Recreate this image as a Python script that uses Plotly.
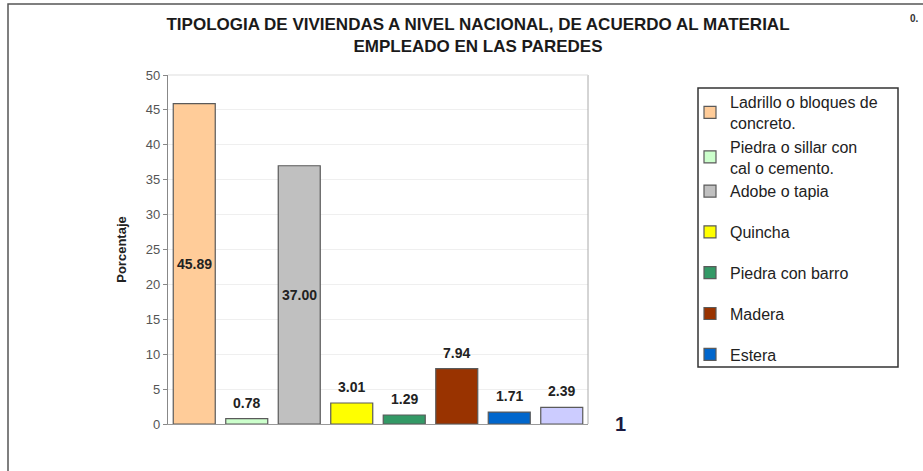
import plotly.graph_objects as go

categories = ["Ladrillo o bloques de<br>concreto.", "Piedra o sillar con<br>cal o cemento.", "Adobe o tapia",
              "Quincha", "Piedra con barro", "Madera", "Estera", "Otro"]
values = [45.89, 0.78, 37.00, 3.01, 1.29, 7.94, 1.71, 2.39]
labels = ["45.89", "0.78", "37.00", "3.01", "1.29", "7.94", "1.71", "2.39"]
colors = ["#FFCC99", "#CCFFCC", "#C0C0C0", "#FFFF00", "#339966", "#993300", "#0066CC", "#CCCCFF"]
inside = [True, False, True, False, False, False, False, False]
groups = ["a", "a", "a", "b", "c", "d", "e", "f"]
show_legend = [True, True, True, True, True, True, True, False]
y_ticks = [0, 5, 10, 15, 20, 25, 30, 35, 40, 45, 50]

W, H = 923, 471
L, R, T, B = 168, 588, 75, 424

fig = go.Figure()
for i, (c, v, col) in enumerate(zip(categories, values, colors)):
    fig.add_trace(go.Bar(
        x=[i], y=[v], name=c, width=0.8,
        marker=dict(color=col, line=dict(color="#5a5a5a", width=1.2)),
        legendgroup=groups[i], showlegend=show_legend[i],
        hoverinfo="skip",
    ))

lab_font = dict(size=14, color="#222222", family="Liberation Sans")
annotations = []
for i, (v, lab) in enumerate(zip(values, labels)):
    if inside[i]:
        annotations.append(dict(x=i, y=v / 2, text=f"<b>{lab}</b>", showarrow=False,
                                xref="x", yref="y", yanchor="middle", font=lab_font))
    else:
        annotations.append(dict(x=i, y=v, text=f"<b>{lab}</b>", showarrow=False,
                                xref="x", yref="y", yanchor="bottom", yshift=6, font=lab_font))

def px(xp):
    return (xp - L) / (R - L)

def py(yp):
    return (B - yp) / (B - T)

annotations.append(dict(x=px(620), y=py(424), xref="paper", yref="paper", text="<b>1</b>",
                        showarrow=False, xanchor="center", yanchor="middle",
                        font=dict(size=20, color="#1a1a40", family="Liberation Sans")))
annotations.append(dict(x=px(921), y=py(18), xref="paper", yref="paper", text="<b>0.</b>",
                        showarrow=False, xanchor="right", yanchor="middle",
                        font=dict(size=10, color="#333333", family="Liberation Sans")))

fig.update_layout(
    width=W, height=H,
    margin=dict(l=L, r=W - R, t=T, b=H - B, autoexpand=False),
    paper_bgcolor="white", plot_bgcolor="white",
    barmode="overlay",
    title=dict(text="<b>TIPOLOGIA DE VIVIENDAS A NIVEL NACIONAL, DE ACUERDO AL MATERIAL<br>EMPLEADO EN LAS PAREDES</b>",
               x=px(478), xref="paper", xanchor="center", y=1 - 30 / H, yanchor="middle",
               font=dict(size=17, color="#1a1a1a", family="Liberation Sans")),
    xaxis=dict(range=[-0.5, 7.5], showticklabels=False, ticks="", showgrid=False, zeroline=False,
               showline=True, linecolor="#999999", linewidth=1, mirror=False, fixedrange=True),
    yaxis=dict(range=[0, 50], tickvals=y_ticks, ticks="outside", ticklen=4, tickcolor="#888888",
               showline=True, linecolor="#888888", linewidth=1.2,
               showgrid=True, gridcolor="#EFEFEF", gridwidth=1, zeroline=False,
               tickfont=dict(size=13, color="#555555", family="Liberation Sans"),
               title=dict(text="<b>Porcentaje</b>", standoff=16,
                          font=dict(size=13, color="#222222", family="Liberation Sans"))),
    legend=dict(x=px(690), y=py(85), xanchor="left", yanchor="top",
                borderwidth=0, bgcolor="rgba(0,0,0,0)",
                traceorder="grouped", tracegroupgap=17,
                font=dict(size=16, color="#222222", family="Liberation Sans"),
                itemwidth=30),
    annotations=annotations,
    shapes=[
        dict(type="line", xref="paper", yref="paper", x0=1, x1=1, y0=0, y1=1,
             line=dict(color="#AAAAAA", width=1)),
        dict(type="line", xref="paper", yref="paper", x0=0, x1=1, y0=1, y1=1,
             line=dict(color="#DDDDDD", width=1)),
        dict(type="rect", xref="paper", yref="paper", x0=px(8), x1=px(940), y0=py(4), y1=py(490),
             line=dict(color="#555555", width=1.5), layer="below"),
        dict(type="rect", xref="paper", yref="paper", x0=px(698), x1=px(898), y0=py(88), y1=py(367),
             line=dict(color="#333333", width=1.5), fillcolor="white", layer="below"),
    ],
    showlegend=True,
)

fig.write_html("out.html", config={"displayModeBar": False},
               post_script="document.body.style.margin='0';")
